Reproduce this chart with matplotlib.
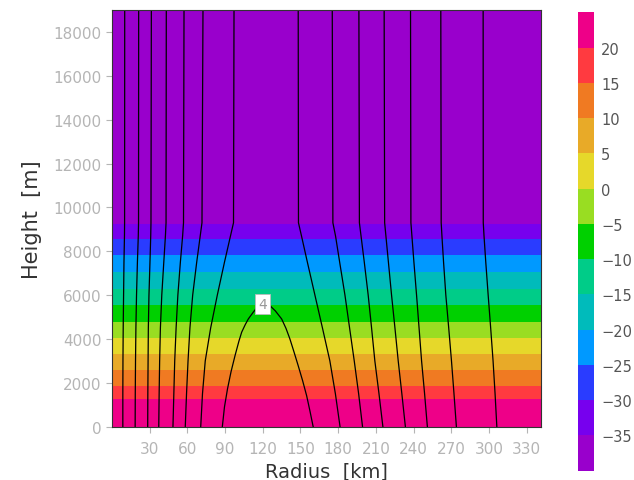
import numpy as np
import matplotlib
matplotlib.use('Agg')
import matplotlib.pyplot as plt
from matplotlib.colors import ListedColormap, BoundaryNorm

# shaded field: each temperature level and the height (m) where it is crossed
temp_levels = [20, 15, 10, 5, 0, -5, -10, -15, -20, -25, -30, -35]
level_heights = [1264, 1871, 2588, 3318, 4048, 4792, 5554, 6285, 7074, 7836, 8567, 9252]
bounds = [-40, -35, -30, -25, -20, -15, -10, -5, 0, 5, 10, 15, 20, 25]
band_colors = ['#9900cc', '#7700ee', '#2a3cff', '#0099ff', '#00bbbb', '#00cc88',
               '#00d000', '#99dd22', '#e6d82a', '#e8aa28', '#f07a22', '#ff3a40',
               '#ee0088']

# black contours: radius (km) of each line at these heights (m)
line_heights = [0, 1500, 3000, 4500, 6000, 7500, 8700, 9300, 19000]
line_radii = [
    [8.6, 8.6, 8.7, 8.9, 9.2, 9.5, 9.9, 10.0, 10.1],
    [18.4, 18.5, 18.7, 19.0, 19.5, 20.2, 20.9, 21.1, 21.2],
    [28.4, 28.5, 28.7, 28.9, 29.4, 30.2, 30.8, 31.0, 31.3],
    [37.2, 37.5, 37.9, 38.5, 39.6, 41.2, 42.5, 43.0, 43.2],
    [48.5, 49.2, 49.9, 51.0, 52.4, 54.4, 56.2, 56.9, 57.3],
    [58.3, 59.3, 60.5, 62.0, 64.2, 67.4, 70.2, 71.6, 72.4],
    [70.6, 72.0, 74.2, 78.5, 83.8, 89.5, 94.3, 96.7, 97.1],
    [181.5, 177.8, 173.4, 167.5, 161.5, 155.5, 150.8, 148.4, 148.2],
    [199.4, 196.3, 192.8, 189.1, 185.4, 181.2, 177.9, 175.8, 175.3],
    [215.6, 212.5, 209.2, 206.6, 203.9, 200.8, 198.2, 196.9, 196.5],
    [233.5, 230.7, 227.8, 225.2, 222.5, 220.0, 218.0, 217.0, 216.6],
    [251.0, 248.8, 246.4, 244.4, 242.4, 240.3, 238.7, 237.9, 237.6],
    [274.1, 272.2, 270.2, 268.0, 265.7, 263.9, 262.6, 262.0, 261.7],
    [306.3, 304.9, 303.3, 301.4, 299.4, 297.5, 296.1, 295.5, 295.4],
]

# closed contour (value 4) forming a dome
dome_value = 4
dome_r = [87.8, 89.5, 91.9, 94.7, 97.9, 101.0, 103.2, 106.0, 108.5, 112.4, 116.0,
          120.5, 125.7, 130.0, 135.0, 138.5, 141.6, 145.0, 148.2, 151.7, 154.9,
          157.6, 160.1]
dome_z = [0, 900, 1720, 2500, 3240, 3900, 4310, 4650, 4915, 5220, 5480,
          5620, 5520, 5280, 4915, 4480, 4000, 3380, 2780, 2100, 1415,
          700, 0]
label_r, label_z = 119.7, 5580

r = np.linspace(0, 342, 50)
z = np.linspace(0, 19000, 1901)
temp_profile = np.interp(z, level_heights, temp_levels, left=22.5, right=-37.5)
T = np.tile(temp_profile[:, None], (1, len(r)))

cmap = ListedColormap(band_colors)
norm = BoundaryNorm(bounds, cmap.N)

fig = plt.figure(figsize=(6.34, 4.81), dpi=100)
ax = fig.add_axes([0.1767, 0.1108, 0.6767, 0.8663])
cf = ax.contourf(r, z, T, levels=bounds, cmap=cmap, norm=norm)

for radii in line_radii:
    ax.plot(radii, line_heights, color='k', lw=0.9)
ax.plot(dome_r, dome_z, color='k', lw=0.9)
ax.text(label_r, label_z, str(dome_value), ha='center', va='center', fontsize=10,
        color='#999999',
        bbox=dict(boxstyle='square,pad=0.22', fc='white', ec='#bbbbbb', lw=0.6))

ax.set_xlim(0, 341.5)
ax.set_ylim(0, 19000)
ax.set_xticks(np.arange(30, 331, 30))
ax.set_yticks(np.arange(0, 18001, 2000))
ax.tick_params(colors='#b5b5b5', labelsize=11, length=4, width=0.8)
ax.tick_params(axis='x', pad=6)
for s in ax.spines.values():
    s.set_color('#333333')
    s.set_linewidth(0.8)
ax.set_xlabel('Radius  [km]', fontsize=14, color='#333333', labelpad=4)
ax.set_ylabel('Height  [m]', fontsize=15, color='#333333', labelpad=8)

cax = fig.add_axes([0.911, 0.0193, 0.026, 0.953])
cb = fig.colorbar(cf, cax=cax, ticks=temp_levels)
cb.outline.set_visible(False)
cb.ax.minorticks_off()
cb.ax.tick_params(which='both', length=0, labelsize=10.5, labelcolor='#555555', pad=5)

fig.savefig('out.png', dpi=100)
